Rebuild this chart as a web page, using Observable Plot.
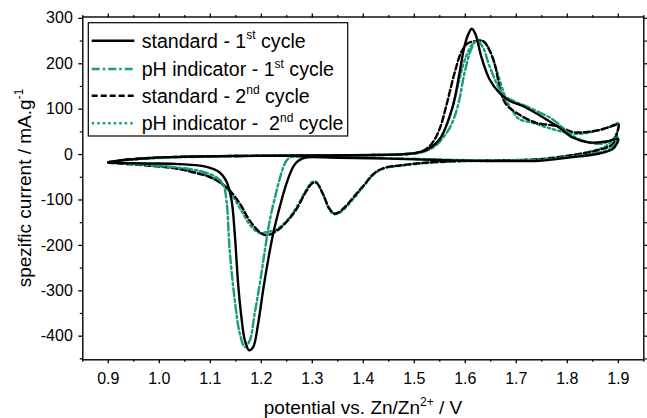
<!DOCTYPE html>
<html>
<head>
<meta charset="utf-8">
<script src="https://cdn.jsdelivr.net/npm/d3@7"></script>
<script src="https://cdn.jsdelivr.net/npm/@observablehq/plot@0.6"></script>
<style>
  html, body { margin: 0; padding: 0; background: #fff; }
  #chart { width: 647px; height: 418px; }
</style>
</head>
<body>
<div id="chart"></div>
<script>
// ---- data (potential V, specific current mA/g), in scan order ----
const std1V = [0.9,0.93,0.975,1.04,1.16,1.3,1.42,1.48,1.51,1.53,1.55,1.5756,1.5887,1.5985,1.607,1.6128,1.62,1.631,1.6474,1.667,1.6874,1.7126,1.7584,1.784,1.8105,1.843,1.876,1.9,
  1.897,1.889,1.863,1.8236,1.778,1.745,1.65,1.55,1.45,1.35,1.29,1.28,1.27,1.262,1.249,1.236,1.2231,1.2133,1.2035,1.1937,1.184,1.176,1.1677,1.161,1.1546,1.148,1.1416,1.132,1.118,1.093,1.04,0.975,0.9];
const std1I = [-17,-12,-8,-5,-3,-2,-1,1,5,14,34,107,180,239,268,277,265,217,166,136,118,107,78,59.6,37.6,26.6,28.8,34,
  24,12,2.4,-4,-10,-13.6,-14,-12,-9,-7,-6,-9,-16,-28,-65,-116,-175,-233,-299,-373,-424,-431,-409,-358,-285,-175,-100,-60,-39,-27,-21,-19.5,-18];

const ph1V = [0.9,0.93,0.975,1.04,1.16,1.3,1.42,1.48,1.51,1.535,1.5495,1.57,1.5854,1.5985,1.6115,1.6225,1.635,1.6474,1.6735,1.695,1.719,1.745,1.771,1.7976,1.8105,1.843,1.869,1.9,
  1.896,1.89,1.876,1.843,1.797,1.745,1.65,1.55,1.45,1.35,1.27,1.256,1.249,1.243,1.23,1.2166,1.207,1.197,1.187,1.1775,1.1677,1.158,1.148,1.138,1.1318,1.125,1.112,1.0795,1.0,0.9];
const ph1I = [-17,-13,-9,-6,-3,-2,-1,1,4,14,28,60,107,180,232,252,235,195,133,118,107,93,78,52,41,26.6,24.4,37.6,
  28,18,8.4,1,-6,-11.5,-13,-11,-8,-6,-5,-6.4,-14,-28,-80,-145,-211,-285,-350,-409,-424,-395,-321,-211,-102,-65,-50,-36,-25,-17];

const std2V = [0.9,0.93,0.975,1.04,1.16,1.3,1.42,1.47,1.5,1.52,1.535,1.5495,1.5626,1.579,1.592,1.605,1.62,1.635,1.645,1.657,1.67,1.68,1.7,1.7388,1.778,1.81,1.8236,1.84,1.863,1.889,1.9,
  1.897,1.889,1.856,1.8105,1.745,1.65,1.589,1.52,1.471,1.445,1.428,1.415,1.406,1.386,1.367,1.352,1.344,1.334,1.321,1.308,1.3,1.2885,1.269,1.249,1.23,1.21,1.197,1.177,1.158,1.138,1.118,1.093,1.0795,1.04,0.975,0.9];
const std2I = [-17,-12,-8,-5,-3,-2,-1,0,3,10,25,56,107,180,225,245,250,250,235,202,136,111,92,70,63,50,48.6,50,54,63,67,
  45,23,8.4,-1,-10,-13,-14,-18,-24,-28,-36,-48,-61,-87,-112,-127,-130,-120,-87,-62,-63,-80,-120,-149,-168,-178,-171,-145,-108,-79,-61,-47,-43,-32,-24,-18];

const ph2V = [0.9,0.93,0.975,1.04,1.16,1.3,1.42,1.48,1.51,1.53,1.55,1.57,1.585,1.6,1.615,1.626,1.637,1.647,1.663,1.68,1.693,1.706,1.732,1.771,1.8105,1.835,1.856,1.88,1.9,
  1.896,1.876,1.837,1.792,1.745,1.65,1.589,1.52,1.471,1.445,1.428,1.415,1.406,1.386,1.367,1.352,1.342,1.332,1.32,1.306,1.298,1.287,1.268,1.248,1.228,1.212,1.197,1.18,1.158,1.14,1.118,1.095,1.073,1.027,0.975,0.9];
const ph2I = [-17,-12,-8,-5,-3,-2,-1,1,4,12,35,85,150,212,245,252,248,232,180,122,95,78,70,56,46,47,52,60,69,
  45,19,4.6,-5,-11.5,-14,-15,-19,-25,-29,-37,-50,-62,-90,-115,-129,-131,-118,-85,-59,-62,-80,-118,-148,-166,-170,-173,-158,-118,-85,-60,-46,-39,-28,-22,-18];

const seriesNames = ["standard - 1", "pH indicator - 1", "standard - 2", "pH indicator -  2"];
const seriesSup = ["st", "st", "nd", "nd"];
const xTicks = [0.9,1.0,1.1,1.2,1.3,1.4,1.5,1.6,1.7,1.8,1.9];
const xMinor = [0.85,0.95,1.05,1.15,1.25,1.35,1.45,1.55,1.65,1.75,1.85,1.95];
const yTicks = [-400,-300,-200,-100,0,100,200,300];
const yMinor = [-450,-350,-250,-150,-50,50,150,250];

const teal = "#1a9c80";
const styles = [
  {stroke: "#000", dash: null},
  {stroke: teal, dash: "8,3,2.5,3"},
  {stroke: "#000", dash: "6,3"},
  {stroke: teal, dash: "2.5,3"}
];

function rows(V, I) { return V.map((v, i) => ({v, i: I[i]})); }
const allData = [rows(std1V, std1I), rows(ph1V, ph1I), rows(std2V, std2I), rows(ph2V, ph2I)];

const font = "Liberation Sans, Arial, Helvetica, sans-serif";
const noLabel = () => "";

const lineMarks = [3, 2, 1, 0].map(k => Plot.line(allData[k], {
  x: "v", y: "i", stroke: styles[k].stroke, strokeWidth: 2.4,
  strokeDasharray: styles[k].dash, curve: "catmull-rom"
}));

const plot = Plot.plot({
  width: 647, height: 418,
  marginLeft: 82.3, marginRight: 3.7, marginTop: 16.5, marginBottom: 58.7,
  style: {fontFamily: font, fontSize: "16px", background: "#fff", color: "#000"},
  x: {domain: [0.85, 1.95], label: null},
  y: {domain: [-452, 303], label: null},
  marks: [
    ...lineMarks,
    Plot.axisX({anchor: "bottom", ticks: xTicks, tickSize: 4, tickPadding: 9, tickFormat: d => d.toFixed(1), strokeWidth: 1.3, fontSize: 16}),
    Plot.axisX({anchor: "bottom", ticks: xMinor, tickSize: 2.5, tickFormat: noLabel, strokeWidth: 1.2}),
    Plot.axisX({anchor: "top", ticks: xTicks, tickSize: 4, tickFormat: noLabel, strokeWidth: 1.3}),
    Plot.axisX({anchor: "top", ticks: xMinor, tickSize: 2.5, tickFormat: noLabel, strokeWidth: 1.2}),
    Plot.axisY({anchor: "left", ticks: yTicks, tickSize: 4, tickPadding: 6, tickFormat: d => String(d), strokeWidth: 1.3, fontSize: 16}),
    Plot.axisY({anchor: "left", ticks: yMinor, tickSize: 2.5, tickFormat: noLabel, strokeWidth: 1.2}),
    Plot.axisY({anchor: "right", ticks: yTicks, tickSize: 4, tickFormat: noLabel, strokeWidth: 1.3}),
    Plot.axisY({anchor: "right", ticks: yMinor, tickSize: 2.5, tickFormat: noLabel, strokeWidth: 1.2}),
    Plot.frame({stroke: "#000", strokeWidth: 1.4})
  ]
});

const svg = d3.select(plot);

// axis titles with superscripts
const xt = svg.append("text").attr("x", 363).attr("y", 414).attr("text-anchor", "middle")
  .attr("font-family", font).attr("font-size", 19).attr("fill", "#000");
xt.append("tspan").text("potential vs. Zn/Zn");
xt.append("tspan").attr("font-size", 12).attr("dy", -8).text("2+");
xt.append("tspan").attr("dy", 8).text(" / V");

const yt = svg.append("text").attr("transform", "translate(31,188) rotate(-90)").attr("text-anchor", "middle")
  .attr("font-family", font).attr("font-size", 19).attr("fill", "#000");
yt.append("tspan").text("spezific current / mA.g");
yt.append("tspan").attr("font-size", 12).attr("dy", -8).text("-1");

// legend
const lg = svg.append("g");
lg.append("rect").attr("x", 88.3).attr("y", 22.7).attr("width", 259.4).attr("height", 113.3)
  .attr("fill", "#fff").attr("stroke", "#000").attr("stroke-width", 1.2);
const rowY = [40.7, 69, 95.7, 123.3];
seriesNames.forEach((name, k) => {
  const ln = lg.append("line").attr("x1", 91.7).attr("x2", 134.3).attr("y1", rowY[k]).attr("y2", rowY[k])
    .attr("stroke", styles[k].stroke).attr("stroke-width", 2.6);
  if (styles[k].dash) ln.attr("stroke-dasharray", styles[k].dash);
  const t = lg.append("text").attr("x", 141.7).attr("y", rowY[k] + 7).attr("text-anchor", "start")
    .attr("font-family", font).attr("font-size", 19.6).attr("fill", "#000");
  t.append("tspan").text(name);
  t.append("tspan").attr("font-size", 12).attr("dy", -8.5).text(seriesSup[k]);
  t.append("tspan").attr("dy", 8.5).text(" cycle");
});

document.getElementById("chart").appendChild(plot);
</script>
</body>
</html>
